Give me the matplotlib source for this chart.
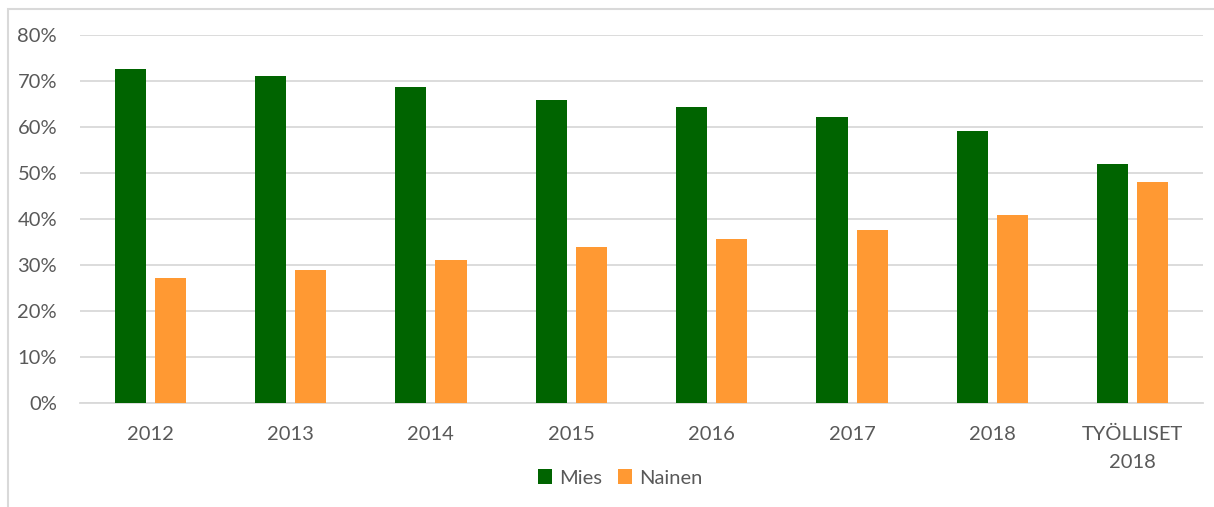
import numpy as np
import matplotlib
matplotlib.use('Agg')
from matplotlib import pyplot as plt
from matplotlib.patches import Rectangle

categories = ['2012', '2013', '2014', '2015', '2016', '2017', '2018', 'TYÖLLISET\n2018']
mies = [72.6, 71.0, 68.7, 65.9, 64.3, 62.2, 59.1, 52.0]
nainen = [27.2, 28.9, 31.1, 33.9, 35.7, 37.6, 40.9, 48.0]

green = '#006400'
orange = '#FF9933'
text_col = '#595959'
grid_col = '#D9D9D9'

plt.rcParams['font.family'] = ['Lato', 'DejaVu Sans']

fig = plt.figure(figsize=(12.14, 5.07), dpi=100)
ax = fig.add_axes([80 / 1214, 1 - 403 / 507, 1123 / 1214, 368 / 507])

x = np.arange(len(categories))
w = 0.221
ax.bar(x - 0.143, mies, w, color=green, label='Mies', zorder=3)
ax.bar(x + 0.143, nainen, w, color=orange, label='Nainen', zorder=3)

ax.set_xlim(-0.5, len(categories) - 0.5)
ax.set_ylim(0, 80)
ax.set_yticks(range(0, 81, 10))
ax.set_yticklabels(['{}%'.format(v) for v in range(0, 81, 10)])
ax.set_xticks(x)
ax.set_xticklabels(categories, linespacing=1.75)

ax.grid(axis='y', color=grid_col, linewidth=1.3, zorder=0)
for s in ['top', 'right', 'left']:
    ax.spines[s].set_visible(False)
ax.spines['bottom'].set_color(grid_col)
ax.spines['bottom'].set_linewidth(1.3)
ax.tick_params(axis='both', length=0, labelsize=14.5, colors=text_col)
ax.tick_params(axis='y', pad=16.5)
ax.tick_params(axis='x', pad=16.5)

leg = fig.legend(loc='center', bbox_to_anchor=(620 / 1214, 1 - 478 / 507), ncol=2,
                 frameon=False, fontsize=14.5, handlelength=0.7, handleheight=0.7,
                 handletextpad=0.35, columnspacing=0.8)
for t in leg.get_texts():
    t.set_color(text_col)

# chart frame
fig.patches.append(Rectangle((8 / 1214, -0.05), 1.2, 1 - 9 / 507 + 0.05,
                             transform=fig.transFigure, fill=False,
                             edgecolor=grid_col, linewidth=1.5))

fig.savefig('out.png', dpi=100)
